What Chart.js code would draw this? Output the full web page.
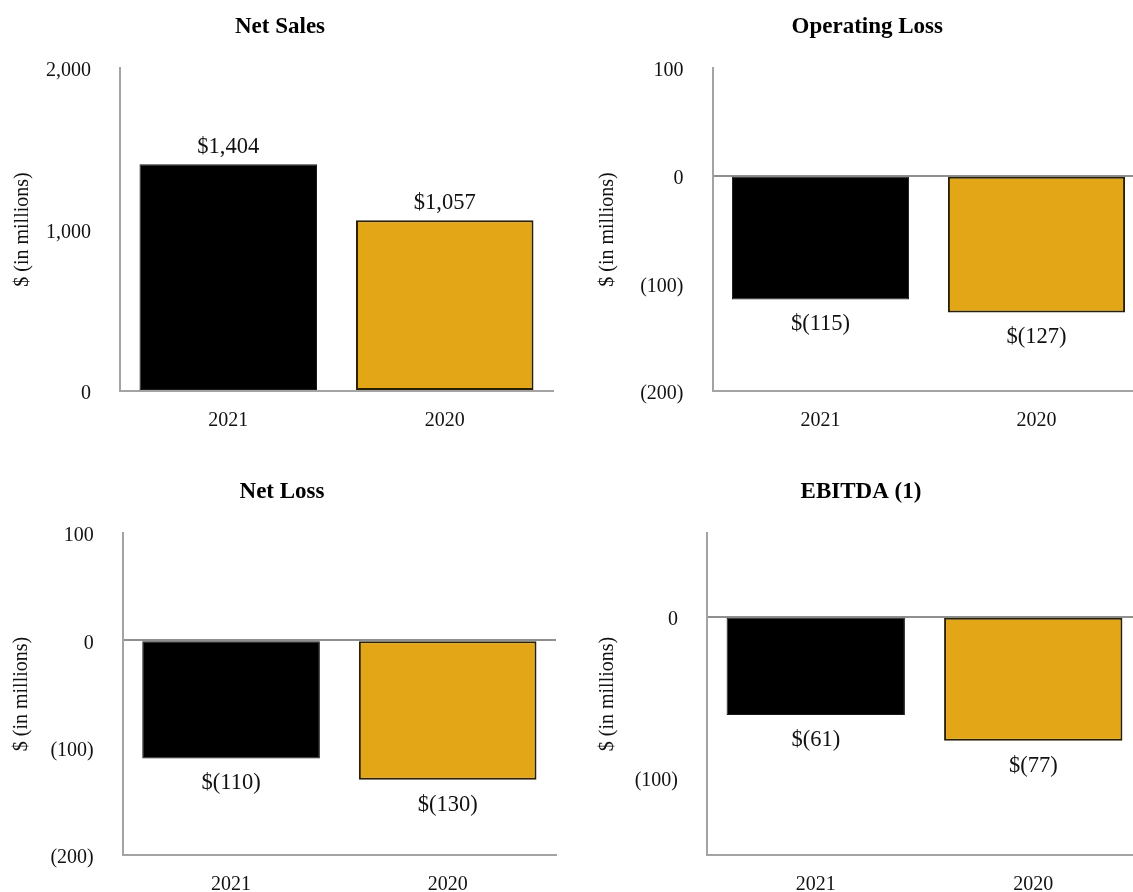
<!DOCTYPE html>
<html>
<head>
<meta charset="utf-8">
<script src="https://cdn.jsdelivr.net/npm/chart.js@4.4.1/dist/chart.umd.min.js"></script>
<style>
  html, body { margin: 0; padding: 0; background: #ffffff; overflow: hidden; width: 1133px; height: 892px; }
  canvas { position: absolute; }
</style>
</head>
<body>
<canvas id="c1" width="560" height="440" style="left:0px;top:0px;"></canvas>
<canvas id="c2" width="600" height="440" style="left:560px;top:0px;"></canvas>
<canvas id="c3" width="560" height="456" style="left:0px;top:440px;"></canvas>
<canvas id="c4" width="600" height="456" style="left:560px;top:440px;"></canvas>
<script>
// ---- data ----
const categories = ['2021', '2020'];
const netSales = [1404, 1057];
const operatingLoss = [-115, -127];
const netLoss = [-110, -130];
const ebitda = [-61, -77];

const titles = ['Net Sales', 'Operating Loss', 'Net Loss', 'EBITDA (1)'];
const yAxisTitle = '$ (in millions)';

const netSalesTicks = [0, 1000, 2000];
const operatingLossTicks = [-200, -100, 0, 100];
const netLossTicks = [-200, -100, 0, 100];
const ebitdaTicks = [-100, 0];
const ebitdaRange = [-148, 52];

const barColors = ['#000000', '#E2A616'];
const barBorders = ['#1a1a1a', '#2a1f00'];

const FONT = "'Liberation Serif', 'Times New Roman', Times, serif";
const TITLE_SIZE = 23;
const TICK_SIZE = 20;
const LABEL_SIZE = 22.5;

function fmt(v) {
  const s = Math.abs(v).toLocaleString('en-US');
  return v < 0 ? '(' + s + ')' : s;
}

const valueLabels = {
  id: 'valueLabels',
  afterDatasetsDraw(chart) {
    const ctx = chart.ctx;
    ctx.save();
    ctx.font = LABEL_SIZE + 'px ' + FONT;
    ctx.fillStyle = '#111';
    ctx.textAlign = 'center';
    ctx.textBaseline = 'middle';
    chart.data.datasets.forEach((ds, i) => {
      chart.getDatasetMeta(i).data.forEach((bar, j) => {
        const v = ds.data[j];
        const txt = '$' + fmt(v);
        const y = v >= 0 ? bar.y - 17 : bar.y + 25;
        ctx.fillText(txt, bar.x, y);
      });
    });
    ctx.restore();
  }
};

function makeChart(id, cfg) {
  const tickList = cfg.ticks;
  const titleLH = TITLE_SIZE * 1.2;
  return new Chart(document.getElementById(id), {
    type: 'bar',
    data: {
      labels: categories,
      datasets: [{
        data: cfg.data,
        backgroundColor: barColors,
        borderColor: barBorders,
        borderWidth: [1, 2],
        borderSkipped: false,
        barPercentage: 0.82,
        categoryPercentage: 1.0
      }]
    },
    options: {
      responsive: false,
      animation: false,
      devicePixelRatio: 1,
      layout: { padding: { left: cfg.padL, right: cfg.padR, top: 0, bottom: 0 } },
      plugins: {
        legend: { display: false },
        tooltip: { enabled: false },
        title: {
          display: true,
          text: cfg.title,
          color: '#000',
          font: { family: FONT, size: TITLE_SIZE, weight: 'bold', lineHeight: 1.2 },
          padding: { top: cfg.titleY - titleLH / 2, bottom: cfg.areaTop - cfg.titleY - titleLH / 2 }
        }
      },
      scales: {
        x: {
          grid: { display: false, drawTicks: false },
          border: { display: true, color: '#a3a3a3', width: 2 },
          ticks: { color: '#111', font: { family: FONT, size: TICK_SIZE }, padding: 17.5, maxRotation: 0, autoSkip: false },
          afterFit: (s) => { s.height = cfg.xH; }
        },
        y: {
          min: cfg.min,
          max: cfg.max,
          afterBuildTicks: (s) => { s.ticks = tickList.map(v => ({ value: v })); },
          grid: {
            display: true,
            drawTicks: false,
            lineWidth: 2,
            color: (c) => (c.tick && c.tick.value === 0) ? '#8f8f8f' : 'rgba(0,0,0,0)'
          },
          border: { display: true, color: '#a3a3a3', width: 2 },
          ticks: {
            color: '#111',
            font: { family: FONT, size: TICK_SIZE },
            padding: 29,
            labelOffset: 3,
            callback: (v) => fmt(v)
          },
          title: {
            display: true,
            text: yAxisTitle,
            color: '#111',
            font: { family: FONT, size: TICK_SIZE },
            padding: { top: cfg.yTitleX - cfg.padL - TICK_SIZE * 0.6, bottom: 0 }
          },
          afterFit: (s) => { s.width = cfg.yW; }
        }
      }
    },
    plugins: [valueLabels]
  });
}

makeChart('c1', {
  data: netSales, title: titles[0], ticks: netSalesTicks,
  min: netSalesTicks[0], max: netSalesTicks[netSalesTicks.length - 1],
  padL: 7, padR: 7, yW: 113, yTitleX: 23,
  titleY: 27, areaTop: 68, xH: 49
});
makeChart('c2', {
  data: operatingLoss, title: titles[1], ticks: operatingLossTicks,
  min: operatingLossTicks[0], max: operatingLossTicks[operatingLossTicks.length - 1],
  padL: 30, padR: 15.5, yW: 122.5, yTitleX: 48,
  titleY: 27, areaTop: 68, xH: 49
});
makeChart('c3', {
  data: netLoss, title: titles[2], ticks: netLossTicks,
  min: netLossTicks[0], max: netLossTicks[netLossTicks.length - 1],
  padL: 8, padR: 4, yW: 114.75, yTitleX: 22,
  titleY: 52, areaTop: 93, xH: 41
});
makeChart('c4', {
  data: ebitda, title: titles[3], ticks: ebitdaTicks,
  min: ebitdaRange[0], max: ebitdaRange[1],
  padL: 20, padR: 18, yW: 127, yTitleX: 48,
  titleY: 52, areaTop: 93, xH: 41
});
</script>
</body>
</html>
